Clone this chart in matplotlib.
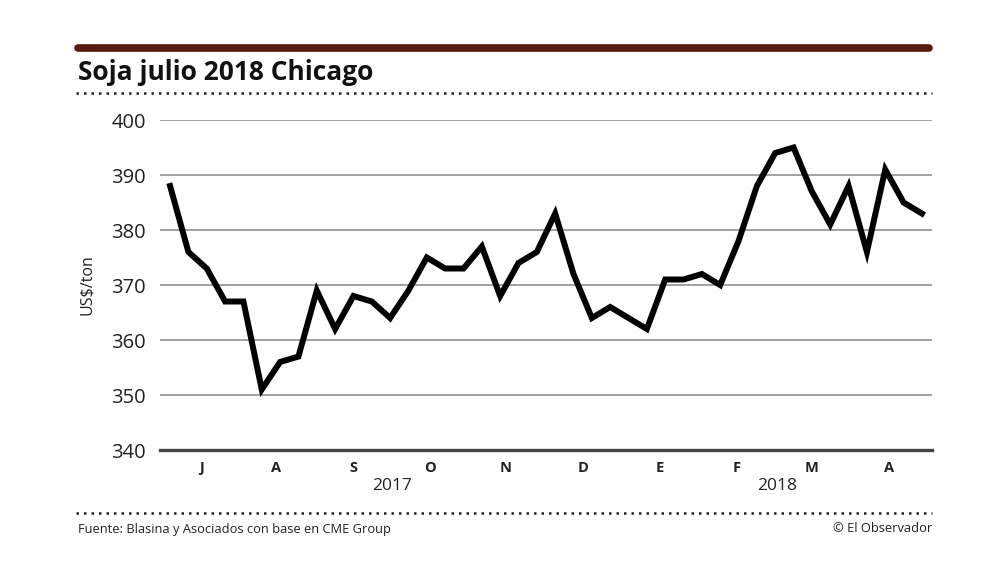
import matplotlib
matplotlib.use('Agg')
import matplotlib.pyplot as plt
from matplotlib.lines import Line2D

# weekly prices, soja julio 2018 (US$/ton)
prices = [388, 376, 373, 367, 367, 351, 356, 357, 369, 362,
          368, 367, 364, 369, 375, 373, 373, 377, 368, 374,
          376, 383, 372, 364, 366, 364, 362, 371, 371, 372,
          370, 378, 388, 394, 395, 387, 381, 388, 376, 391,
          385, 383]
month_labels = ['J', 'A', 'S', 'O', 'N', 'D', 'E', 'F', 'M', 'A']
month_pos = [1.7, 5.8, 10.0, 14.2, 18.3, 22.5, 26.7, 30.9, 35.0, 39.2]
years = ['2017', '2018']
year_pos = [12.1, 33.1]
yticks = [340, 350, 360, 370, 380, 390, 400]

plt.rcParams['font.family'] = ['Open Sans', 'DejaVu Sans']

fig = plt.figure(figsize=(10, 5.82), dpi=100)
ax = fig.add_axes([0.16, 0.2268, 0.772, 0.567])

weeks = list(range(len(prices)))
ax.plot(weeks, prices, color='black', lw=4.3, solid_joinstyle='miter', zorder=3)

ax.set_xlim(-0.55, len(prices) - 1 + 0.55)
ax.set_ylim(340, 400)
for v in yticks[1:]:
    ax.axhline(v, color='#9a9a9a', lw=1.3, zorder=1)
ax.axhline(340, color='#444444', lw=2.4, zorder=2, clip_on=False)

for s in ax.spines.values():
    s.set_visible(False)
ax.set_yticks(yticks)
ax.set_yticklabels([str(v) for v in yticks], fontsize=14.5, color='#222222')
ax.tick_params(axis='y', length=0, pad=10)
ax.set_xticks(month_pos)
ax.set_xticklabels(month_labels, fontsize=10.5, fontweight='bold', color='#222222')
ax.tick_params(axis='x', length=0, pad=8)
for yr, xp in zip(years, year_pos):
    ax.text(xp, -0.11, yr, transform=ax.get_xaxis_transform(), ha='center', va='center',
            fontsize=12.5, color='#222222')
ax.set_ylabel('US$/ton', fontsize=11.5, color='#222222', labelpad=12)

# header and footer decorations
fig.add_artist(Line2D([0.078, 0.929], [1 - 48 / 582] * 2, color='#5b1a0f', lw=5.5,
                      solid_capstyle='round'))
fig.text(0.078, 1 - 73 / 582, 'Soja julio 2018 Chicago', fontsize=19, fontweight='bold',
         va='center', ha='left', color='#111111')
fig.add_artist(Line2D([0.076, 0.932], [1 - 93 / 582] * 2, color='#222222', lw=1.8,
                      linestyle=(0, (1, 2))))
fig.add_artist(Line2D([0.076, 0.932], [1 - 513 / 582] * 2, color='#222222', lw=1.8,
                      linestyle=(0, (1, 2))))
fig.text(0.078, 1 - 529 / 582, 'Fuente: Blasina y Asociados con base en CME Group',
         fontsize=9.3, va='center', ha='left', color='#222222')
fig.text(0.932, 1 - 529 / 582, '© El Observador', fontsize=9.3, va='center', ha='right',
         color='#222222')

fig.savefig('out.png', dpi=100, facecolor='white')
